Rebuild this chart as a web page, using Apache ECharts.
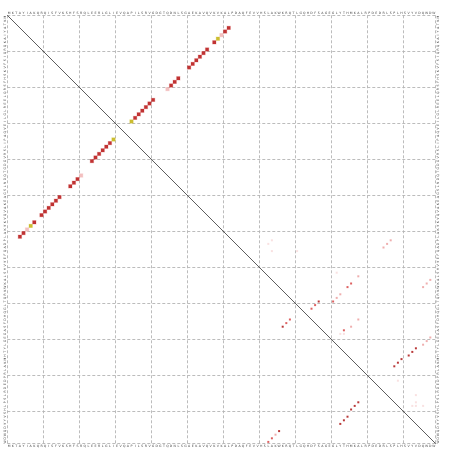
<!DOCTYPE html>
<html><head><meta charset="utf-8">
<script src="https://cdn.jsdelivr.net/npm/echarts@6/dist/echarts.min.js"></script>
<style>html,body{margin:0;padding:0;background:#fff}#c{width:452px;height:451px}</style>
</head><body><div id="c"></div>
<script>
// residue labels (119 positions)
const residues = "MKTAYIAKQRQISFVKSHFSRQLEERLGLIEVQAPILSRVGDGTQDNLSGAEKAVQVKVKALPDAQFEVVHSLAKWKRQTLGQHDFSAGEGLYTHMKALRPDEDRLSPLHSVYVDQWDWERVMGDGERQFSTLKSTVEAIWAGIKATEAAVSEEFGLAPFLPDQIHFVHSQELLSRYPDLDAKGRERAIAKDLGAVFLVGIGGKLSDGHRHDVRAPDYDDWUAEEQ".split("").slice(0, 119);
const xLabels = residues;
const yLabels = residues;

// strong contacts (squares): column index, row index, kind (2 = red, 1 = pink, 3 = yellow)
const bigX = [3,4,5,6,7,9,10,11,12,13,14,17,18,19,20,23,24,25,26,27,28,29,
              34,35,36,37,38,39,40,44,45,46,47,50,51,52,53,54,55,57,58,59,60,61];
const bigY = [61,60,59,58,57,55,54,53,52,51,50,47,46,45,44,40,39,38,37,36,35,34,
              29,28,27,26,25,24,23,20,19,18,17,14,13,12,11,10,9,7,6,5,4,3];
const bigKind = [2,2,1,3,2,2,2,2,2,2,2,2,2,2,1,2,2,2,2,2,2,3,
                 3,2,2,2,2,2,2,1,2,2,2,2,2,2,2,2,2,2,3,1,2,2];

// weak contacts (small dots): column, row, level 0..3
const smallX = [97,96,95,94,93,92, 107,108,109,111,112,113, 115,116,117,
                86,85,84, 78,77,76, 95,94,97,92,91,90,91, 97,95,93,92,93,
                75,74,73,72, 115,116,117, 104,105,106, 73,72,73,80,
                108,113,113,112,113,115];
const smallY = [107,108,109,111,112,113, 97,96,95,94,93,92, 91,90,89,
                79,80,81, 84,85,86, 74,75,72,77,78,79,71, 84,86,87,88,88,
                115,116,117,118, 75,74,73, 64,63,62, 62,63,65,65,
                101,105,107,108,108,108];
const smallLevel = [3,3,3,3,3,3, 3,3,3,3,3,3, 1,1,1,
                    3,2,2, 2,2,3, 2,2,1,1,1,2,0, 1,1,2,0,0,
                    3,1,2,2, 1,1,1, 1,1,1, 0,0,0,0,
                    0,0,0,0,0,0];

const kindColor = {1: "#f0b0b0", 2: "#b00000", 3: "#bfae00"};
const kindBorder = {1: "rgba(240,176,176,0.4)", 2: "rgba(200,40,40,0.3)", 3: "rgba(200,180,0,0.3)"};
const levelColor = ["#f7d9d9", "#eb9a9a", "#d63a3a", "#a80808"];

const chart = echarts.init(document.getElementById("c"), null, {renderer: "canvas"});
const G = {left: 7.3, top: 15.3, width: 428.4, height: 428.4};
const xl = {interval: 0, fontSize: 3.2, color: "#444", margin: 1, fontFamily: "DejaVu Sans"};
const yl = {interval: 0, fontSize: 3.2, color: "#444", margin: 1, rotate: 90, fontFamily: "DejaVu Sans"};
const split = {show: true, interval: (i) => i % 10 === 0,
               lineStyle: {type: [3, 2], color: "#b4b4b4", width: 0.9}};
chart.setOption({
  animation: false,
  backgroundColor: "#fff",
  grid: [Object.assign({}, G), Object.assign({}, G)],
  xAxis: [
    {type: "category", gridIndex: 0, position: "bottom", data: xLabels,
     axisLine: {show: false}, axisTick: {show: false}, axisLabel: xl, splitLine: split},
    {type: "category", gridIndex: 0, position: "top", data: xLabels,
     axisLine: {show: false}, axisTick: {show: false}, axisLabel: xl, splitLine: {show: false}},
    {type: "value", gridIndex: 1, min: 0, max: 119, show: false}
  ],
  yAxis: [
    {type: "category", gridIndex: 0, position: "left", inverse: true, data: yLabels,
     axisLine: {show: false}, axisTick: {show: false}, axisLabel: yl, splitLine: split},
    {type: "category", gridIndex: 0, position: "right", inverse: true, data: yLabels,
     axisLine: {show: false}, axisTick: {show: false}, axisLabel: yl, splitLine: {show: false}},
    {type: "value", gridIndex: 1, min: 0, max: 119, inverse: true, show: false}
  ],
  series: [
    {type: "line", xAxisIndex: 2, yAxisIndex: 2, data: [[0, 0], [119, 119]],
     symbol: "none", silent: true, lineStyle: {color: "#333", width: 0.8}, z: 1},
    {type: "scatter", xAxisIndex: 0, yAxisIndex: 0, symbol: "rect", symbolSize: 3.4, z: 3,
     data: bigX.map((x, i) => ({value: [x, bigY[i]],
       itemStyle: {color: kindColor[bigKind[i]], borderColor: kindBorder[bigKind[i]], borderWidth: 1}}))},
    {type: "scatter", xAxisIndex: 0, yAxisIndex: 0, symbol: "rect", symbolSize: 2, z: 3,
     data: smallX.map((x, i) => ({value: [x, smallY[i]], itemStyle: {color: levelColor[smallLevel[i]]}}))}
  ]
});
</script></body></html>
